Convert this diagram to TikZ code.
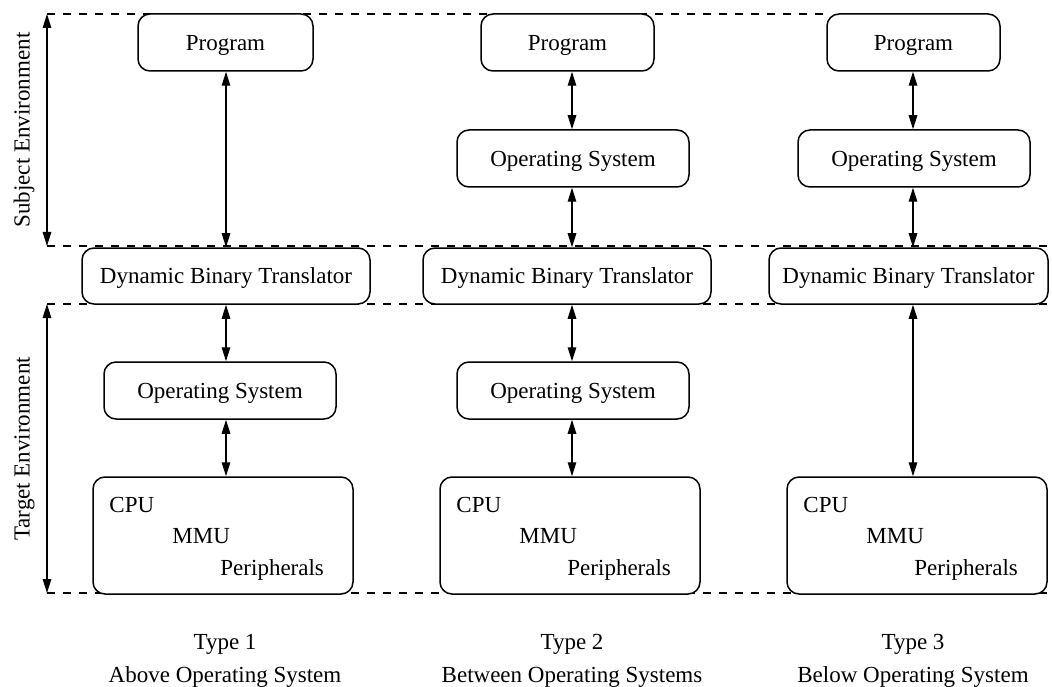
\documentclass[tikz,border=0pt]{standalone}
\usepackage{fontspec}
\setmainfont{Liberation Serif}
\usetikzlibrary{arrows.meta}
\begin{document}
\begin{tikzpicture}[x=1pt,y=-1pt,
  box/.style={draw, line width=1.5pt, rounded corners=12pt, fill=white, inner sep=0pt},
  guide/.style={line width=1.3pt, dash pattern=on 8pt off 8pt},
  link/.style={line width=1.4pt, {Triangle[length=14pt,width=8.5pt]}-{Triangle[length=14pt,width=8.5pt]}},
  lbl/.style={font=\fontsize{23}{27}\selectfont, inner sep=0pt, text height=15.4pt, text depth=0pt}]
\useasboundingbox (0,0) rectangle (1052,687);

% horizontal guide lines separating the environments
\coordinate (g1a) at (47,14);   \coordinate (g1b) at (827,14);
\coordinate (g2a) at (47,246);  \coordinate (g2b) at (1047,246);
\coordinate (g3a) at (47,304);  \coordinate (g3b) at (1047,304);
\coordinate (g4a) at (47,593);  \coordinate (g4b) at (1047,593);
\draw[guide] (g1a) -- (g1b);
\draw[guide] (g2a) -- (g2b);
\draw[guide] (g3a) -- (g3b);
\draw[guide] (g4a) -- (g4b);

% environment extents
\draw[link] (g1a) -- (g2a);
\draw[link] (g3a) -- (g4a);
\node[lbl, rotate=90] (subj) at (22,130) {Subject Environment};
\node[lbl, rotate=90] (targ) at (22,449) {Target Environment};

% ---- Type 1
\node[box, lbl, minimum width=175, minimum height=57] (p1) at (225.5,42.5) {Program};
\node[box, lbl, minimum width=288, minimum height=56] (d1) at (226,276) {Dynamic Binary Translator};
\node[box, lbl, minimum width=232, minimum height=57] (o1) at (220,390.5) {Operating System};
\node[box, minimum width=260, minimum height=117] (h1) at (223,535.5) {};
\node[lbl, anchor=west] (c1) at ([xshift=17pt,yshift=31pt]h1.west) {CPU};
\node[lbl, anchor=west] (m1) at ([xshift=80pt,yshift=0pt]h1.west) {MMU};
\node[lbl, anchor=west] (r1) at ([xshift=128pt,yshift=-32pt]h1.west) {Peripherals};
\draw[link] (p1.south -| 226,0) -- (d1.north -| 226,0);
\draw[link] (d1.south -| 226,0) -- (o1.north -| 226,0);
\draw[link] (o1.south -| 226,0) -- (h1.north -| 226,0);

% ---- Type 2
\node[box, lbl, minimum width=173, minimum height=57] (p2) at (567.5,42.5) {Program};
\node[box, lbl, minimum width=232, minimum height=57] (os2) at (573,158.5) {Operating System};
\node[box, lbl, minimum width=288, minimum height=56] (d2) at (567,276) {Dynamic Binary Translator};
\node[box, lbl, minimum width=232, minimum height=57] (o2) at (573,390.5) {Operating System};
\node[box, minimum width=260, minimum height=117] (h2) at (570,535.5) {};
\node[lbl, anchor=west] (c2) at ([xshift=17pt,yshift=31pt]h2.west) {CPU};
\node[lbl, anchor=west] (m2) at ([xshift=80pt,yshift=0pt]h2.west) {MMU};
\node[lbl, anchor=west] (r2) at ([xshift=128pt,yshift=-32pt]h2.west) {Peripherals};
\draw[link] (p2.south -| 572,0) -- (os2.north -| 572,0);
\draw[link] (os2.south -| 572,0) -- (d2.north -| 572,0);
\draw[link] (d2.south -| 572,0) -- (o2.north -| 572,0);
\draw[link] (o2.south -| 572,0) -- (h2.north -| 572,0);

% ---- Type 3
\node[box, lbl, minimum width=173, minimum height=57] (p3) at (913.5,42.5) {Program};
\node[box, lbl, minimum width=232, minimum height=57] (os3) at (914,158.5) {Operating System};
\node[box, lbl, minimum width=279, minimum height=56] (d3) at (908.5,276) {Dynamic Binary Translator};
\node[box, minimum width=260, minimum height=117] (h3) at (917,535.5) {};
\node[lbl, anchor=west] (c3) at ([xshift=17pt,yshift=31pt]h3.west) {CPU};
\node[lbl, anchor=west] (m3) at ([xshift=80pt,yshift=0pt]h3.west) {MMU};
\node[lbl, anchor=west] (r3) at ([xshift=128pt,yshift=-32pt]h3.west) {Peripherals};
\draw[link] (p3.south -| 913,0) -- (os3.north -| 913,0);
\draw[link] (os3.south -| 913,0) -- (d3.north -| 913,0);
\draw[link] (d3.south -| 913,0) -- (h3.north -| 913,0);

% captions
\node[lbl] (t1) at (225,642) {Type 1};
\node[lbl] (a1) at (225,675) {Above Operating System};
\node[lbl] (t2) at (572,642) {Type 2};
\node[lbl] (a2) at (572,675) {Between Operating Systems};
\node[lbl] (t3) at (913,642) {Type 3};
\node[lbl] (a3) at (913,675) {Below Operating System};
\end{tikzpicture}
\end{document}
